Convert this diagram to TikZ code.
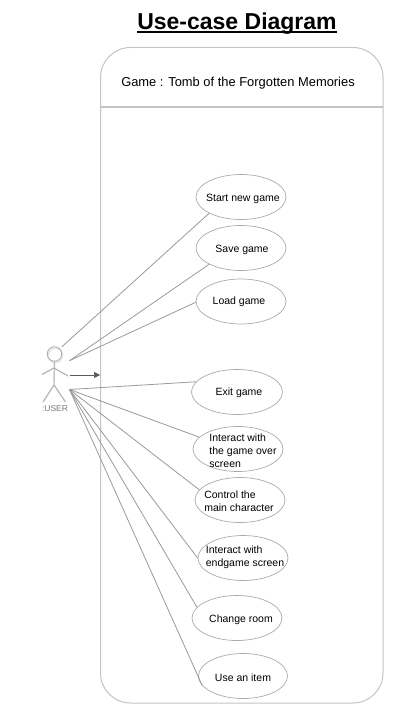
\documentclass[tikz,border=0pt]{standalone}
\usepackage{fontspec}
\setmainfont{Liberation Sans}
\usetikzlibrary{shapes.geometric,arrows.meta}
\definecolor{framegray}{HTML}{C4C4C4}
\definecolor{linegray}{HTML}{9A9A9A}
\definecolor{ellgray}{HTML}{ABABAB}
\definecolor{actorgray}{HTML}{B0B0B0}
\definecolor{shadowgray}{HTML}{E6E6E6}
\definecolor{labelgray}{HTML}{7A7A7A}
\definecolor{arrowgray}{HTML}{5A5A5A}
\tikzset{
  x=1pt,y=-1pt,
  ucase/.style={draw=ellgray,line width=0.7pt,ellipse,inner sep=0pt,minimum width=#1,minimum height=45pt,fill=white},
  uctext/.style={font=\fontsize{10.5}{13}\selectfont,text=black,align=left,inner sep=0pt},
  assoc/.style={draw=linegray,line width=0.8pt},
  limb/.style={draw=actorgray,line width=0.9pt},
  limbshadow/.style={draw=shadowgray,line width=1.4pt},
}
\begin{document}
\begin{tikzpicture}
\useasboundingbox (0,0) rectangle (400,719);
\fill[white] (0,0) rectangle (400,719);
\node[inner sep=0pt,font=\fontsize{23}{26}\selectfont\bfseries] (title) at (237,24) {Use-case Diagram};
\coordinate (ull) at (137,32.3);
\coordinate (ulr) at (337,32.3);
\draw[black,line width=1.6pt] (ull) -- (ulr);
\draw[framegray,line width=1pt,rounded corners=30pt] (100.5,47.5) rectangle (383,703);
\coordinate (divl) at (100.5,107);
\coordinate (divr) at (383,107);
\draw[framegray,line width=1.2pt] (divl) -- (divr);
\node[inner sep=0pt,font=\fontsize{12.9}{15}\selectfont] (game) at (238,83.5) {Game : Tomb of the Forgotten Memories};

% actor
\coordinate (hip) at (54,385);
\coordinate (neck) at (54,368);
\coordinate (handl) at (42,374.5);
\coordinate (handr) at (68,376);
\coordinate (footl) at (43,402);
\coordinate (footr) at (65.5,402);
\coordinate (headtop) at (54.5,361);
\begin{scope}[shift={(1,1.5)}]
\draw[limbshadow] (54.5,354) circle[radius=7.2pt];
\draw[limbshadow] (headtop) -- (hip);
\draw[limbshadow] (handl) -- (neck) -- (handr);
\draw[limbshadow] (footl) -- (hip) -- (footr);
\end{scope}
\node[draw=actorgray,line width=0.9pt,circle,minimum size=14.5pt,inner sep=0pt] (head) at (54.5,354) {};
\draw[limb] (head) -- (hip);
\draw[limb] (handl) -- (neck) -- (handr);
\draw[limb] (footl) -- (hip) -- (footr);
\node[inner sep=0pt,text=labelgray,font=\fontsize{8.5}{10}\selectfont] (user) at (55,408.5) {:USER};

\coordinate (a1) at (62,346.7);
\coordinate (a2) at (69.5,360.7);
\coordinate (a3) at (70,375);
\coordinate (a4) at (69.5,389.5);
\coordinate (arrowend) at (100,375);

\node[ucase=90pt] (start) at (241,197) {};
\node[ucase=90pt] (save) at (241,248) {};
\node[ucase=90pt] (load) at (241,301.5) {};
\node[ucase=91pt] (exit) at (237,392) {};
\node[ucase=90pt] (over) at (238,449) {};
\node[ucase=90pt] (control) at (240,500) {};
\node[ucase=90pt] (endg) at (243,558) {};
\node[ucase=90pt] (room) at (237,618) {};
\node[ucase=89pt] (item) at (243,676) {};

\draw[assoc] (a1) -- (start.207);
\draw[assoc] (a2) -- (save.207);
\draw[assoc] (a2) -- (load.181);
\draw[draw=arrowgray,line width=0.7pt,-{Triangle[length=6pt,width=6pt]}] (a3) -- (arrowend);
\draw[assoc] (a4) -- (exit.166);
\draw[assoc] (a4) -- (over.163);
\draw[assoc] (a4) -- (control.166);
\draw[assoc] (a4) -- (endg.180);
\draw[assoc] (a4) -- (room.165);
\draw[assoc] (a4) -- (item.193);

\node[uctext] (tstart) at (243,198.5) {Start new game};
\node[uctext] (tsave) at (242,249.5) {Save game};
\node[uctext] (tload) at (239,301.5) {Load game};
\node[uctext] (texit) at (239,392.5) {Exit game};
\node[uctext] (tover) at (243,450.5) {Interact with\\the game over\\screen};
\node[uctext] (tcontrol) at (239,501.5) {Control the\\main character};
\node[uctext] (tendg) at (245,557.5) {Interact with\\endgame screen};
\node[uctext] (troom) at (241,619.5) {Change room};
\node[uctext] (titem) at (243,677.5) {Use an item};
\end{tikzpicture}
\end{document}
